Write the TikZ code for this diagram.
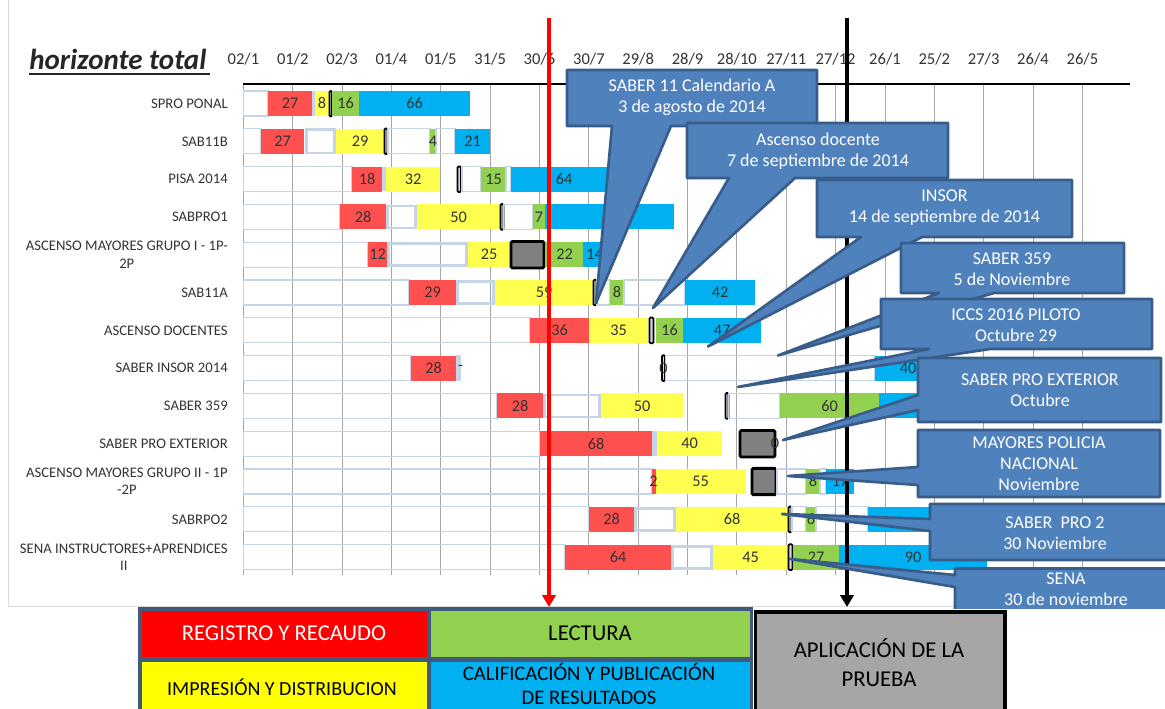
\documentclass[tikz,border=0pt]{standalone}
\usepackage{amsmath}
\usepackage{xcolor}
\usepackage{fontspec}
\setmainfont{Carlito}
\usepackage{tikz}
\usetikzlibrary{arrows.meta}

\definecolor{barred}{HTML}{FF5050}
\definecolor{baryellow}{HTML}{FFFF50}
\definecolor{bargreen}{HTML}{92D050}
\definecolor{barblue}{HTML}{00B0F0}
\definecolor{offblue}{HTML}{C6D4E8}
\definecolor{gridgray}{HTML}{A6A6A6}
\definecolor{framegray}{HTML}{D9D9D9}
\definecolor{callblue}{HTML}{4F81BD}
\definecolor{callborder}{HTML}{385D8A}
\definecolor{aplgray}{HTML}{808080}
\definecolor{leggray}{HTML}{A6A6A6}
\definecolor{legframe}{HTML}{3F5A7A}
\definecolor{legred}{HTML}{FF0000}
\definecolor{legyellow}{HTML}{FFFF00}
\definecolor{lbltext}{HTML}{333333}
\definecolor{headtext}{HTML}{262626}

\begin{document}
\begin{tikzpicture}[x=0.75pt,y=0.75pt,yscale=-1,xscale=1,
  offbox/.style={draw=offblue,line width=0.9pt},
  gapbox/.style={draw=offblue,line width=2.2pt},
  regbar/.style={fill=barred},
  impbar/.style={fill=baryellow},
  lecbar/.style={fill=bargreen},
  calbar/.style={fill=barblue},
  hito/.style={draw=black,fill=black!15,line width=1.3pt,rounded corners=0.8pt},
  aplbox/.style={draw=black,fill=aplgray,line width=2.2pt,rounded corners=1pt},
  gridln/.style={draw=gridgray,line width=0.75pt},
  barlbl/.style={text=lbltext,inner sep=0.75pt,font=\fontsize{12.2}{14}\selectfont},
  rowlbl/.style={text=lbltext,inner sep=0.75pt,anchor=east,align=center,font=\fontsize{11}{13}\selectfont},
  datelbl/.style={text=lbltext,inner sep=0.75pt,anchor=base,font=\fontsize{12.4}{14}\selectfont},
  callout/.style={fill=callblue,draw=callborder,line width=2pt,line join=round},
  calltxt/.style={text=white,inner sep=0.75pt,align=center,font=\fontsize{13.5}{15.8}\selectfont},
  legtxt/.style={text=black,inner sep=0.75pt,align=center,font=\fontsize{17}{21.5}\selectfont},
  arrowln/.style={line width=3pt,-{Triangle[length=9pt,width=10pt]}}
]
\useasboundingbox (0,0) rectangle (1165,709);

%Straight Lines: chart frame
\draw[draw=framegray,line width=0.75pt] (8,0) -- (8,606) -- (1166,606);

% Text Node
\draw (29,70) node[anchor=base west,inner sep=0pt,text=headtext,font=\fontsize{21.75}{24}\selectfont\bfseries\itshape] (ht) {horizonte total};
%Straight Lines
\draw[headtext,line width=2.2pt] (29,74) -- (210,74);

% Text Node
\draw (243.4,65) node[datelbl] (d0) {02/1};
\draw (292.8,65) node[datelbl] (d1) {01/2};
\draw (342.1,65) node[datelbl] (d2) {02/3};
\draw (391.5,65) node[datelbl] (d3) {01/4};
\draw (440.8,65) node[datelbl] (d4) {01/5};
\draw (490.2,65) node[datelbl] (d5) {31/5};
\draw (539.5,65) node[datelbl] (d6) {30/6};
\draw (588.9,65) node[datelbl] (d7) {30/7};
\draw (638.2,65) node[datelbl] (d8) {29/8};
\draw (687.6,65) node[datelbl] (d9) {28/9};
\draw (736.9,65) node[datelbl] (d10) {28/10};
\draw (786.3,65) node[datelbl] (d11) {27/11};
\draw (835.6,65) node[datelbl] (d12) {27/12};
\draw (885.0,65) node[datelbl] (d13) {26/1};
\draw (934.3,65) node[datelbl] (d14) {25/2};
\draw (983.7,65) node[datelbl] (d15) {27/3};
\draw (1033.0,65) node[datelbl] (d16) {26/4};
\draw (1082.4,65) node[datelbl] (d17) {26/5};

%Straight Lines: grid
\draw[gridln] (243.4,84) -- (243.4,575);
\draw[gridln] (292.8,84) -- (292.8,575);
\draw[gridln] (342.1,84) -- (342.1,575);
\draw[gridln] (391.5,84) -- (391.5,575);
\draw[gridln] (440.8,84) -- (440.8,575);
\draw[gridln] (490.2,84) -- (490.2,575);
\draw[gridln] (539.5,84) -- (539.5,575);
\draw[gridln] (588.9,84) -- (588.9,575);
\draw[gridln] (638.2,84) -- (638.2,575);
\draw[gridln] (687.6,84) -- (687.6,575);
\draw[gridln] (736.9,84) -- (736.9,575);
\draw[gridln] (786.3,84) -- (786.3,575);
\draw[gridln] (835.6,84) -- (835.6,575);
\draw[gridln] (885.0,84) -- (885.0,575);
\draw[gridln] (934.3,84) -- (934.3,575);
\draw[gridln] (983.7,84) -- (983.7,575);
\draw[gridln] (1033.0,84) -- (1033.0,575);
\draw[gridln] (1082.4,84) -- (1082.4,575);
%Straight Lines: axis
\draw[line width=1.1pt] (243.4,84) -- (1130,84);

% Text Node
\draw (229,103.5) node[rowlbl] (l0) {SPRO PONAL};
\draw (229,141.3) node[rowlbl] (l1) {SAB11B};
\draw (229,179.1) node[rowlbl] (l2) {PISA 2014};
\draw (229,216.9) node[rowlbl] (l3) {SABPRO1};
\draw (229,254.7) node[rowlbl] (l4) {ASCENSO MAYORES GRUPO I - 1P-\\2P};
\draw (229,292.5) node[rowlbl] (l5) {SAB11A};
\draw (229,330.3) node[rowlbl] (l6) {ASCENSO DOCENTES};
\draw (229,368.1) node[rowlbl] (l7) {SABER INSOR 2014};
\draw (229,405.9) node[rowlbl] (l8) {SABER 359};
\draw (229,443.7) node[rowlbl] (l9) {SABER PRO EXTERIOR};
\draw (229,481.5) node[rowlbl] (l10) {ASCENSO MAYORES GRUPO II - 1P\\-2P};
\draw (229,519.3) node[rowlbl] (l11) {SABRPO2};
\draw (229,557.1) node[rowlbl] (l12) {SENA INSTRUCTORES+APRENDICES\\II};

%Shape: Rectangle  -- SPRO PONAL
\draw[offbox] (243.4,91) rectangle (268,116);
\fill[regbar] (268,91) rectangle (312,116);
\draw[gapbox] (313,92) rectangle (314.5,115);
\fill[impbar] (315,91) rectangle (329,116);
\draw[hito] (329.5,91) rectangle (332,116.5);
\fill[lecbar] (332,91) rectangle (359,116);
\fill[calbar] (359,91) rectangle (470,116);
\draw (290,103.5) node[barlbl] (b0a) {27};
\draw (322,103.5) node[barlbl] (b0b) {8};
\draw (345.5,103.5) node[barlbl] (b0c) {16};
\draw (414.5,103.5) node[barlbl] (b0d) {66};

%Shape: Rectangle  -- SAB11B
\draw[offbox] (243.4,128.8) rectangle (261,153.8);
\fill[regbar] (261,128.8) rectangle (304,153.8);
\draw[gapbox] (306.5,129.5) rectangle (334.5,153);
\fill[impbar] (336,128.8) rectangle (384,153.8);
\draw[hito] (384.5,128.5) rectangle (387.5,154);
\draw[offbox] (388,128.8) rectangle (430,153.8);
\fill[lecbar] (430,128.8) rectangle (436,153.8);
\draw[offbox] (436,128.8) rectangle (455,153.8);
\fill[calbar] (455,128.8) rectangle (490,153.8);
\draw (282.5,141.3) node[barlbl] (b1a) {27};
\draw (360,141.3) node[barlbl] (b1b) {29};
\draw (433,141.3) node[barlbl] (b1c) {4};
\draw (472.5,141.3) node[barlbl] (b1d) {21};

%Shape: Rectangle  -- PISA 2014
\draw[offbox] (243.4,166.6) rectangle (352,191.6);
\fill[regbar] (352,166.6) rectangle (382,191.6);
\draw[gapbox] (383.5,168) rectangle (384.5,190);
\fill[impbar] (386,166.6) rectangle (440,191.6);
\draw[hito] (457.5,166.5) rectangle (461,192);
\draw[offbox] (462,166.6) rectangle (481,191.6);
\fill[lecbar] (481,166.6) rectangle (506,191.6);
\draw[offbox] (506,166.6) rectangle (511,191.6);
\fill[calbar] (511,166.6) rectangle (617,191.6);
\draw (367,179.1) node[barlbl] (b2a) {18};
\draw (413,179.1) node[barlbl] (b2b) {32};
\draw (493.5,179.1) node[barlbl] (b2c) {15};
\draw (564,179.1) node[barlbl] (b2d) {64};

%Shape: Rectangle  -- SABPRO1
\draw[offbox] (243.4,204.4) rectangle (340,229.4);
\fill[regbar] (340,204.4) rectangle (386,229.4);
\draw[gapbox] (387.5,206) rectangle (415.5,228);
\fill[impbar] (417,204.4) rectangle (500,229.4);
\draw[hito] (500.5,204) rectangle (503.5,229.8);
\draw[offbox] (503.5,204.4) rectangle (533,229.4);
\fill[lecbar] (533,204.4) rectangle (545,229.4);
\fill[calbar] (545,204.4) rectangle (674,229.4);
\draw (363,216.9) node[barlbl] (b3a) {28};
\draw (458.5,216.9) node[barlbl] (b3b) {50};
\draw (539,216.9) node[barlbl] (b3c) {7};

%Shape: Rectangle  -- ASCENSO MAYORES GRUPO I
\draw[offbox] (243.4,242.2) rectangle (368,267.2);
\fill[regbar] (368,242.2) rectangle (387,267.2);
\draw[gapbox] (388.5,243.7) rectangle (466.5,265.7);
\fill[impbar] (468,242.2) rectangle (510,267.2);
\draw[aplbox] (511,241.5) rectangle (544,268);
\fill[lecbar] (546,242.2) rectangle (583,267.2);
\fill[calbar] (583,242.2) rectangle (606,267.2);
\draw (377.5,254.7) node[barlbl] (b4a) {12};
\draw (489,254.7) node[barlbl] (b4b) {25};
\draw (564.5,254.7) node[barlbl] (b4c) {22};
\draw (594.5,254.7) node[barlbl] (b4d) {14};

%Shape: Rectangle  -- SAB11A
\draw[offbox] (243.4,280) rectangle (409,305);
\fill[regbar] (409,280) rectangle (456,305);
\draw[gapbox] (457.5,281.5) rectangle (493.5,303.5);
\fill[impbar] (495,280) rectangle (593,305);
\draw[hito] (593.5,279.7) rectangle (596.5,305.3);
\draw[offbox] (596.5,280) rectangle (610,305);
\fill[lecbar] (610,280) rectangle (624,305);
\draw[offbox] (624,280) rectangle (685,305);
\fill[calbar] (685,280) rectangle (755,305);
\draw (432.5,292.5) node[barlbl] (b5a) {29};
\draw (544,292.5) node[barlbl] (b5b) {59};
\draw (617,292.5) node[barlbl] (b5c) {8};
\draw (720,292.5) node[barlbl] (b5d) {42};

%Shape: Rectangle  -- ASCENSO DOCENTES
\draw[offbox] (243.4,317.8) rectangle (530,342.8);
\fill[regbar] (530,317.8) rectangle (589,342.8);
\fill[impbar] (589,317.8) rectangle (648,342.8);
\draw[hito] (649.5,317.5) rectangle (653.5,343.2);
\fill[lecbar] (656,317.8) rectangle (683,342.8);
\fill[calbar] (683,317.8) rectangle (761,342.8);
\draw (559.5,330.3) node[barlbl] (b6a) {36};
\draw (618.5,330.3) node[barlbl] (b6b) {35};
\draw (669.5,330.3) node[barlbl] (b6c) {16};
\draw (722,330.3) node[barlbl] (b6d) {47};

%Shape: Rectangle  -- SABER INSOR 2014
\draw[offbox] (243.4,355.6) rectangle (411,380.6);
\fill[regbar] (411,355.6) rectangle (456,380.6);
\draw[gapbox] (457.5,356.5) rectangle (459.5,380);
\draw[hito] (662,355.3) rectangle (665,381);
\draw[offbox] (665.5,355.6) rectangle (875,380.6);
\fill[calbar] (875,355.6) rectangle (941,380.6);
\draw (433.5,368.1) node[barlbl] (b7a) {28};
\draw (460.5,368.1) node[barlbl] (b7b) {-};
\draw (663.5,368.1) node[barlbl] (b7c) {0};
\draw (908,368.1) node[barlbl] (b7d) {40};

%Shape: Rectangle  -- SABER 359
\draw[offbox] (243.4,393.4) rectangle (497,418.4);
\fill[regbar] (497,393.4) rectangle (543,418.4);
\draw[gapbox] (544.5,395) rectangle (599.5,417);
\fill[impbar] (601,393.4) rectangle (683,418.4);
\draw[hito] (725.5,393.1) rectangle (728.5,418.8);
\draw[offbox] (728.5,393.4) rectangle (780,418.4);
\fill[lecbar] (780,393.4) rectangle (879,418.4);
\fill[calbar] (879,393.4) rectangle (960,418.4);
\draw (520,405.9) node[barlbl] (b8a) {28};
\draw (642,405.9) node[barlbl] (b8b) {50};
\draw (829.5,405.9) node[barlbl] (b8c) {60};

%Shape: Rectangle  -- SABER PRO EXTERIOR
\draw[offbox] (243.4,431.2) rectangle (540,456.2);
\fill[regbar] (540,431.2) rectangle (652,456.2);
\draw[gapbox] (653.5,432.5) rectangle (655.5,455);
\fill[impbar] (657,431.2) rectangle (722,456.2);
\draw[aplbox] (740,430.5) rectangle (775,457);
\draw (596,443.7) node[barlbl] (b9a) {68};
\draw (689.5,443.7) node[barlbl] (b9b) {40};
\draw (775,443.7) node[barlbl] (b9c) {0};

%Shape: Rectangle  -- ASCENSO MAYORES GRUPO II
\draw[offbox] (243.4,469) rectangle (652,494);
\fill[regbar] (652,469) rectangle (655.5,494);
\fill[impbar] (655.5,469) rectangle (746,494);
\draw[aplbox] (752,468.3) rectangle (776,494.7);
\draw[offbox] (777,469) rectangle (806,494);
\fill[lecbar] (806,469) rectangle (820,494);
\draw[offbox] (820,469) rectangle (826,494);
\fill[calbar] (826,469) rectangle (854,494);
\draw (653.5,481.5) node[barlbl] (b10a) {2};
\draw (700.5,481.5) node[barlbl] (b10b) {55};
\draw (813,481.5) node[barlbl] (b10c) {8};
\draw (840,481.5) node[barlbl] (b10d) {17};

%Shape: Rectangle  -- SABRPO2
\draw[offbox] (243.4,506.8) rectangle (589,531.8);
\fill[regbar] (589,506.8) rectangle (634,531.8);
\draw[gapbox] (635.5,508.3) rectangle (674.5,530.3);
\fill[impbar] (676,506.8) rectangle (788,531.8);
\draw[hito] (788.5,506.5) rectangle (791.5,532.2);
\draw[offbox] (792,506.8) rectangle (806,531.8);
\fill[lecbar] (806,506.8) rectangle (816,531.8);
\draw[offbox] (816,506.8) rectangle (868,531.8);
\fill[calbar] (868,506.8) rectangle (960,531.8);
\draw (611.5,519.3) node[barlbl] (b11a) {28};
\draw (732,519.3) node[barlbl] (b11b) {68};
\draw (811,519.3) node[barlbl] (b11c) {6};

%Shape: Rectangle  -- SENA
\draw[offbox] (243.4,544.6) rectangle (565,569.6);
\fill[regbar] (565,544.6) rectangle (671,569.6);
\draw[gapbox] (672.5,546.1) rectangle (711.5,568.1);
\fill[impbar] (713,544.6) rectangle (788,569.6);
\draw[hito] (788.5,544.3) rectangle (792.5,570);
\fill[lecbar] (793,544.6) rectangle (839,569.6);
\fill[calbar] (839,544.6) rectangle (987,569.6);
\draw (618,557.1) node[barlbl] (b12a) {64};
\draw (750.5,557.1) node[barlbl] (b12b) {45};
\draw (816,557.1) node[barlbl] (b12c) {27};
\draw (913,557.1) node[barlbl] (b12d) {90};

%Straight Lines: red and black arrows
\coordinate (ra) at (549,18);
\coordinate (rb) at (549,607);
\draw[arrowln,draw=red,fill=red] (ra) -- (rb);
\coordinate (ka) at (847,18);
\coordinate (kb) at (847,607);
\draw[arrowln,draw=black,fill=black] (ka) -- (kb);

%Shape: Callouts
\coordinate (t1) at (596,303);
\draw[callout] (567,70) -- (817,70) -- (817,126) -- (671,126) -- (t1) -- (612,126) -- (567,126) -- cycle;
\draw (692,97) node[calltxt] (c1) {SABER 11 Calendario A\\3 de agosto de 2014};

\coordinate (t2) at (653,308);
\draw[callout] (687,123) -- (948,123) -- (948,178) -- (795,178) -- (t2) -- (729,178) -- (687,178) -- cycle;
\draw (818,151) node[calltxt] (c2) {Ascenso docente\\7 de septiembre de 2014};

\coordinate (t3) at (708,346.5);
\draw[callout] (817,180) -- (1072,180) -- (1072,237) -- (922,237) -- (t3) -- (861,237) -- (817,237) -- cycle;
\draw (944.5,208) node[calltxt] (c3) {INSOR\\14 de septiembre de 2014};

\coordinate (t4) at (778,355.5);
\draw[callout] (901,243) -- (1124,243) -- (1124,293) -- (994,293) -- (t4) -- (939,293) -- (901,293) -- cycle;
\draw (1012,269) node[calltxt] (c4) {SABER 359\\5 de Noviembre};

\coordinate (t5) at (738,387);
\draw[callout] (881,299) -- (1152,299) -- (1152,349) -- (990,349) -- (t5) -- (929,349) -- (881,349) -- cycle;
\draw (1016,325) node[calltxt] (c5) {ICCS 2016 PILOTO\\Octubre 29};

\coordinate (t6) at (783,440);
\draw[callout] (918,358) -- (1161,358) -- (1161,422) -- (918,422) -- (918,410) -- (t6) -- (918,395) -- cycle;
\draw (1040,390) node[calltxt] (c6) {SABER PRO EXTERIOR\\Octubre};

\coordinate (t7) at (788,476);
\draw[callout] (918,430) -- (1160,430) -- (1160,497) -- (918,497) -- (918,485) -- (t7) -- (918,467) -- cycle;
\draw (1039,464) node[calltxt] (c7) {MAYORES POLICIA\\NACIONAL\\Noviembre};

\coordinate (t8) at (782,514);
\draw[callout] (930,504) -- (1180,504) -- (1180,560) -- (930,560) -- (930,531) -- (t8) -- (930,519) -- cycle;
\draw (1055,533) node[calltxt] (c8) {SABER\ \ PRO 2\\30 Noviembre};

\begin{scope}
\clip (700,540) rectangle (1170,608.5);
\coordinate (t9) at (790,559);
\draw[callout] (955,568.5) -- (1178,568.5) -- (1178,625) -- (955,625) -- (955,587) -- (t9) -- (955,575) -- cycle;
\draw (1066,589) node[calltxt] (c9) {SENA\\30 de noviembre};
\end{scope}

%Shape: Legend
\fill[legframe] (138,607) rectangle (753,712);
\fill[legred] (142,610.5) rectangle (426.5,657);
\fill[bargreen] (430.5,610.5) rectangle (750,657);
\fill[legyellow] (142,661.5) rectangle (426.5,712);
\fill[barblue] (430.5,661.5) rectangle (750,712);
\draw[fill=leggray,draw=black,line width=2.5pt] (755.5,612) rectangle (1005,712);

% Text Node
\draw (284,633.5) node[legtxt,text=white] (lg1) {REGISTRO Y RECAUDO};
\draw (590,633.5) node[legtxt] (lg2) {LECTURA};
\draw (282,687.5) node[legtxt,font=\fontsize{15}{18}\selectfont] (lg3) {IMPRESIÓN Y DISTRIBUCION};
\draw (589,684) node[legtxt,font=\fontsize{15.5}{17.5}\selectfont] (lg4) {CALIFICACIÓN Y PUBLICACIÓN\\DE RESULTADOS};
\draw (879,662.5) node[legtxt] (lg5) {APLICACIÓN DE LA\\PRUEBA};

\end{tikzpicture}
\end{document}
